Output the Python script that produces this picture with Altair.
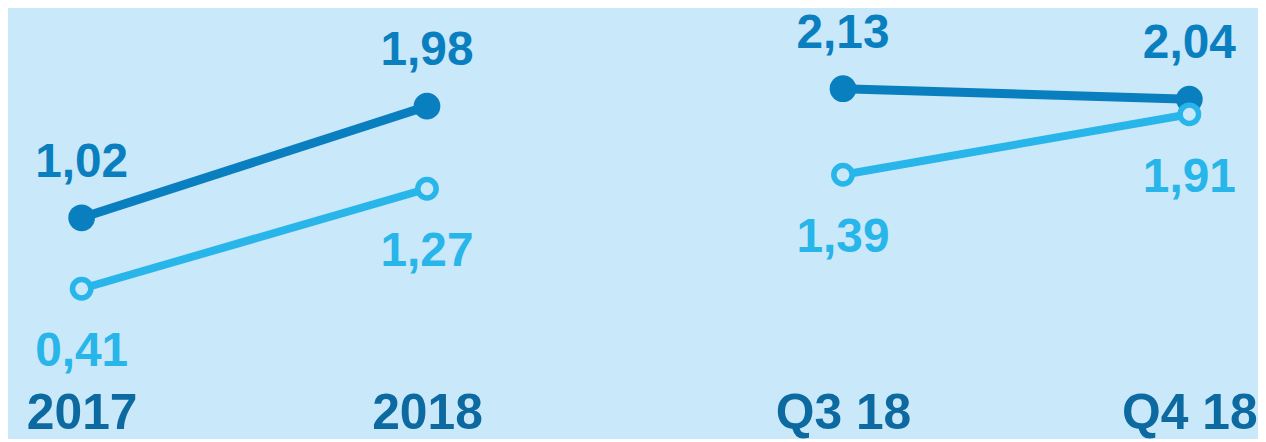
import altair as alt
import pandas as pd

# ---- data ----
periods_left = ["2017", "2018"]
dark_left = [1.02, 1.98]
light_left = [0.41, 1.27]

periods_right = ["Q3 18", "Q4 18"]
dark_right = [2.13, 2.04]
light_right = [1.39, 1.91]

series_names = ["dark", "light"]

BG = "#c9e8f9"
DARK = "#0a7fbf"
LIGHT = "#27b5ea"
YEAR = "#0d6aa0"
FONT_NUM = "Liberation Sans"
FONT_AX = "Liberation Sans"

Y_MAX = 2.815
PLOT_H = 329


def make_df(periods, dark, light):
    rows = []
    for name, vals in zip(series_names, [dark, light]):
        for p, v in zip(periods, vals):
            rows.append({"period": p, "series": name, "value": v,
                         "label": f"{v:.2f}".replace(".", ",")})
    return pd.DataFrame(rows)


def panel(periods, dark, light, width, pad):
    df = make_df(periods, dark, light)
    x = alt.X("period:N", sort=periods,
              scale=alt.Scale(type="point", padding=pad),
              axis=alt.Axis(title=None, domain=False, ticks=False, tickSize=0,
                            grid=False, labelAngle=0, labelFont=FONT_AX,
                            labelFontSize=50, labelFontWeight="bold",
                            labelColor=YEAR, labelPadding=92,
                            labelBaseline="alphabetic"))
    y = alt.Y("value:Q", scale=alt.Scale(domain=[0, Y_MAX], nice=False, zero=True),
              axis=None)
    base = alt.Chart(df)
    d = base.transform_filter(alt.datum.series == "dark")
    l = base.transform_filter(alt.datum.series == "light")
    layers = [
        d.mark_line(color=DARK, strokeWidth=9).encode(x=x, y=y),
        d.mark_point(shape="circle", filled=True, color=DARK, size=720, opacity=1).encode(x=x, y=y),
        d.mark_text(dy=-55, fontSize=48, fontWeight="bold", font=FONT_NUM, color=DARK).encode(x=x, y=y, text="label:N"),
        l.mark_line(color=LIGHT, strokeWidth=8).encode(x=x, y=y),
        l.mark_point(shape="circle", filled=False, fill=BG, fillOpacity=1, stroke=LIGHT,
                     strokeWidth=5.5, size=340, opacity=1).encode(x=x, y=y),
        l.mark_text(dy=64, fontSize=48, fontWeight="bold", font=FONT_NUM, color=LIGHT).encode(x=x, y=y, text="label:N"),
    ]
    return alt.layer(*layers).properties(width=width, height=PLOT_H)


left = panel(periods_left, dark_left, light_left, 495, 74 / 347)
right = panel(periods_right, dark_right, light_right, 470, 61 / 348)

chart = alt.hconcat(left, right, spacing=283, bounds="flush").properties(
    padding={"left": 0, "top": 0, "right": 0, "bottom": 0},
    background=BG,
).configure_view(stroke=None)

chart.save("out.html", embed_options={"renderer": "svg", "actions": False})
